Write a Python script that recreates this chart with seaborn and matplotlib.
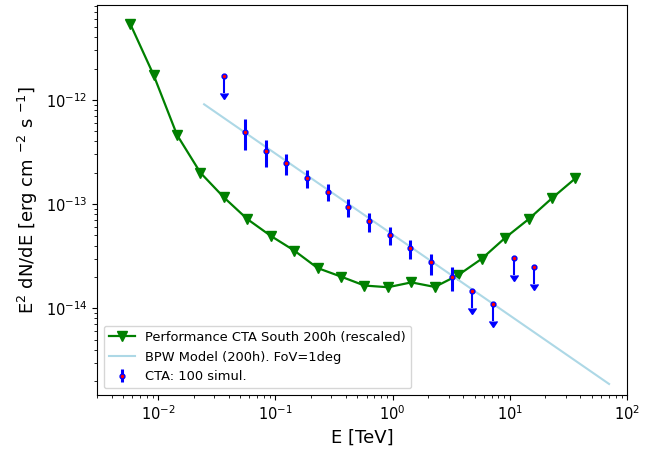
import numpy as np
import matplotlib
matplotlib.use("Agg")
import matplotlib.pyplot as plt
import seaborn as sns

# CTA South sensitivity curve (rescaled), E in TeV, E^2 dN/dE in erg cm^-2 s^-1
perf_energy = [0.00575, 0.00912, 0.01445, 0.0229, 0.0363, 0.0575, 0.0912,
               0.1445, 0.229, 0.363, 0.575, 0.912, 1.445, 2.29, 3.63, 5.75,
               9.12, 14.45, 22.9, 36.3]
perf_flux = [5.42e-12, 1.74e-12, 4.62e-13, 2.00e-13, 1.16e-13, 7.18e-14,
             4.95e-14, 3.58e-14, 2.43e-14, 2.01e-14, 1.65e-14, 1.59e-14,
             1.77e-14, 1.60e-14, 2.08e-14, 2.98e-14, 4.74e-14, 7.16e-14,
             1.14e-13, 1.77e-13]

# Broken power-law model
model_energy = [0.0246, 1.0, 70.3]
model_flux = [9.1e-13, 5.1e-14, 1.87e-15]

# Simulated CTA spectral points
sim_energy = [0.0547, 0.0826, 0.124, 0.186, 0.279, 0.419, 0.628, 0.942,
              1.416, 2.12, 3.18]
sim_flux = [4.96e-13, 3.22e-13, 2.48e-13, 1.77e-13, 1.32e-13, 9.40e-14,
            6.90e-14, 5.06e-14, 3.77e-14, 2.75e-14, 1.99e-14]
sim_low = [3.31e-13, 2.26e-13, 1.91e-13, 1.42e-13, 1.07e-13, 7.49e-14,
           5.45e-14, 4.02e-14, 2.96e-14, 2.09e-14, 1.45e-14]
sim_high = [6.57e-13, 4.13e-13, 3.03e-13, 2.13e-13, 1.56e-13, 1.11e-13,
            8.18e-14, 6.08e-14, 4.53e-14, 3.33e-14, 2.51e-14]

# Upper limits
ul_energy = [0.0365, 4.78, 7.21, 10.8, 16.1]
ul_flux = [1.70e-12, 1.45e-14, 1.10e-14, 3.05e-14, 2.46e-14]
ul_arrow = [0.53e-12, 0.45e-14, 0.34e-14, 0.95e-14, 0.76e-14]

x_ticks = [1e-2, 1e-1, 1e0, 1e1, 1e2]
y_ticks = [1e-14, 1e-13, 1e-12]

fig, ax = plt.subplots(figsize=(6.6, 4.57), dpi=100)
fig.subplots_adjust(left=0.147, right=0.950, top=0.988, bottom=0.136)
ax.set_xscale("log")
ax.set_yscale("log")

sns.lineplot(x=perf_energy, y=perf_flux, ax=ax, color="green", lw=1.6,
             marker="v", markersize=6.8, markeredgecolor="green",
             markeredgewidth=1, sort=False,
             label="Performance CTA South 200h (rescaled)")
sns.lineplot(x=model_energy, y=model_flux, ax=ax, color="lightblue", lw=1.5,
             sort=False, label="BPW Model (200h). FoV=1deg")

sim_flux_a = np.array(sim_flux)
yerr = [sim_flux_a - np.array(sim_low), np.array(sim_high) - sim_flux_a]
ax.errorbar(sim_energy, sim_flux, yerr=yerr, fmt="o", color="blue",
            ms=3.5, mfc="red", mec="blue", mew=1, elinewidth=2.2,
            label="CTA: 100 simul.", zorder=3)
ax.errorbar(ul_energy, ul_flux, yerr=ul_arrow, uplims=True, fmt="o",
            color="blue", ms=3.5, mfc="red", mec="blue", mew=1,
            elinewidth=1.5, zorder=3)

ax.set_xlim(0.003, 100)
ax.set_ylim(1.47e-15, 8.1e-12)
ax.set_xticks(x_ticks)
ax.set_yticks(y_ticks)
ax.set_xlabel("E [TeV]", fontsize=13)
ax.set_ylabel(r"E$^2$ dN/dE [erg cm $^{-2}$ s $^{-1}$]", fontsize=13)
ax.tick_params(labelsize=10.5)
ax.legend(loc="lower left", fontsize=9.4)

fig.savefig("out.png", dpi=100)
